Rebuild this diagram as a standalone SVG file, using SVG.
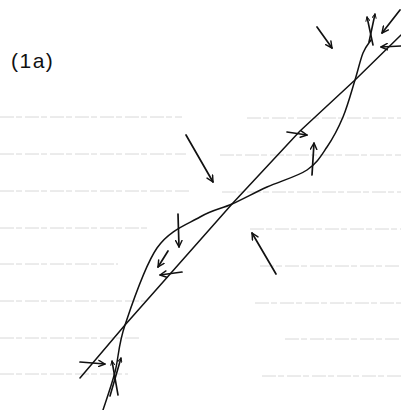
<svg xmlns="http://www.w3.org/2000/svg" width="401" height="410" viewBox="0 0 401 410">
  <style>
    .rule { stroke: #d8d8d8; stroke-width: 1; fill: none; stroke-dasharray: 14 2 6 3; }
    .ink { stroke: #111; stroke-width: 1.5; fill: none; stroke-linecap: round; stroke-linejoin: round; }
    .arrow { stroke: #111; stroke-width: 1.7; fill: none; stroke-linecap: round; marker-end: url(#head); }
    .small { stroke: #111; stroke-width: 1.6; fill: none; stroke-linecap: round; marker-end: url(#headS); }
    .label { font-family: "Liberation Sans", "DejaVu Sans", sans-serif; font-size: 21px; fill: #111; letter-spacing: 1.5px; }
  </style>
  <defs>
    <marker id="head" viewBox="0 0 10 10" refX="9" refY="5" markerWidth="8" markerHeight="8" markerUnits="userSpaceOnUse" orient="auto">
      <path d="M1,1 L9,5 L1,9" stroke="#111" stroke-width="1.8" fill="none" stroke-linecap="round" stroke-linejoin="round"/>
    </marker>
    <marker id="headS" viewBox="0 0 10 10" refX="9" refY="5" markerWidth="5" markerHeight="5" markerUnits="userSpaceOnUse" orient="auto">
      <path d="M1,1 L9,5 L1,9" stroke="#111" stroke-width="2" fill="none" stroke-linecap="round"/>
    </marker>
  </defs>

  <g id="ruled-paper">
    <path class="rule" d="M0,117 H182 M247,118 H401"/>
    <path class="rule" d="M0,154 H186 M220,155 H401"/>
    <path class="rule" d="M0,191 H190 M222,192 H401"/>
    <path class="rule" d="M0,228 H148 M250,229 H401"/>
    <path class="rule" d="M0,264 H118 M260,266 H401"/>
    <path class="rule" d="M0,301 H150 M255,303 H401"/>
    <path class="rule" d="M0,338 H140 M285,339 H401"/>
    <path class="rule" d="M0,374 H128 M262,376 H401"/>
  </g>

  <g id="label">
    <text class="label" x="11" y="68">(1a)</text>
  </g>

  <g id="straight-line">
    <path class="ink" d="M80,378 L125,325 L232,204 L300,131 L355,80 L401,35"/>
  </g>

  <g id="s-curve">
    <path class="ink" d="M103,410 C105,403.7 111.3,386.2 115,372 C118.7,357.8 118,345.7 125,325 C132,304.3 144.5,266 157,248 C169.5,230 187.5,224.3 200,217 C212.5,209.7 220.8,209 232,204 C243.2,199 254.5,192.7 267,187 C279.5,181.3 297,176.7 307,170 C317,163.3 321,155.8 327,147 C333,138.2 338.3,128.2 343,117 C347.7,105.8 351.7,90.7 355,80 C358.3,69.3 360.3,59.7 363,53 C365.7,46.3 369.7,42.2 371,40"/>
  </g>

  <g id="connectors">
    <line class="arrow" x1="317" y1="27" x2="332" y2="48"/>
    <line class="arrow" x1="186" y1="135" x2="213" y2="182"/>
    <line class="arrow" x1="287" y1="132" x2="307" y2="135"/>
    <line class="arrow" x1="312" y1="175" x2="314" y2="143"/>
    <line class="arrow" x1="178" y1="214" x2="179" y2="247"/>
    <line class="arrow" x1="168" y1="251" x2="158" y2="267"/>
    <line class="arrow" x1="182" y1="272" x2="160" y2="275"/>
    <line class="arrow" x1="276" y1="274" x2="252" y2="233"/>
    <line class="arrow" x1="80" y1="362" x2="105" y2="364"/>
    <line class="arrow" x1="400" y1="10" x2="382" y2="33"/>
    <line class="arrow" x1="401" y1="46" x2="381" y2="47"/>
    <line class="small" x1="373" y1="45" x2="367" y2="17"/>
    <line class="small" x1="369" y1="42" x2="375" y2="14"/>
    <line class="small" x1="110" y1="396" x2="121" y2="358"/>
    <line class="small" x1="118" y1="395" x2="112" y2="361"/>
  </g>
</svg>
